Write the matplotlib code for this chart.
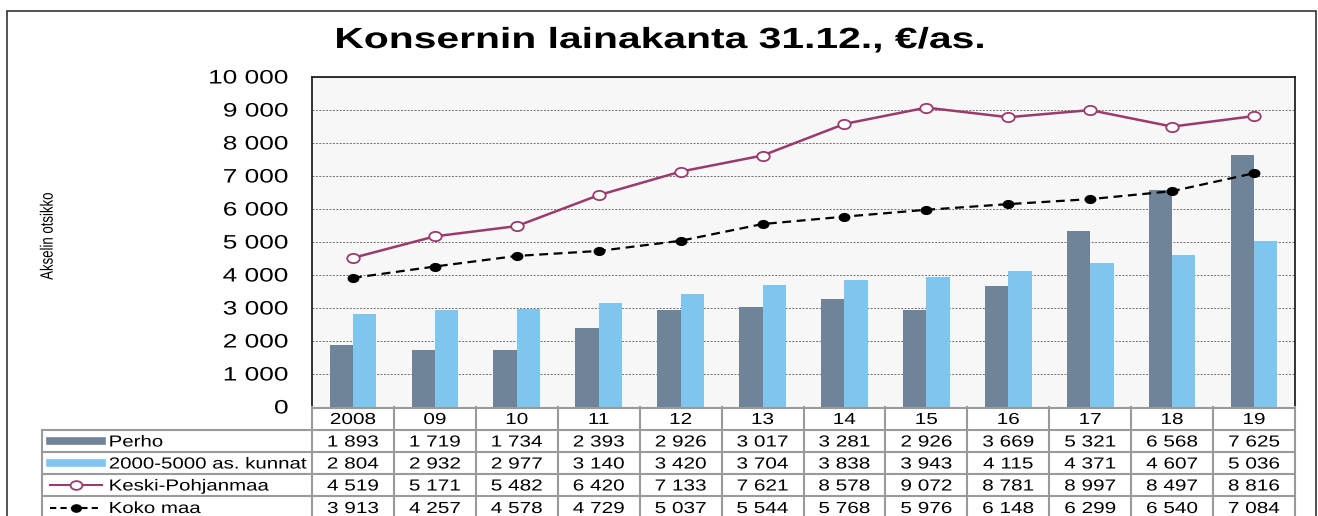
import numpy as np
import matplotlib
matplotlib.use("Agg")
import matplotlib.pyplot as plt
import matplotlib.transforms as mtrans
import matplotlib.patheffects as pe
from matplotlib.lines import Line2D
from matplotlib.patches import Rectangle
from matplotlib.path import Path

plt.rcParams['font.family'] = ['Liberation Sans', 'DejaVu Sans']

# data
years = ['2008', '09', '10', '11', '12', '13', '14', '15', '16', '17', '18', '19']
perho = [1893, 1719, 1734, 2393, 2926, 3017, 3281, 2926, 3669, 5321, 6568, 7625]
kunnat = [2804, 2932, 2977, 3140, 3420, 3704, 3838, 3943, 4115, 4371, 4607, 5036]
keski_pohjanmaa = [4519, 5171, 5482, 6420, 7133, 7621, 8578, 9072, 8781, 8997, 8497, 8816]
koko_maa = [3913, 4257, 4578, 4729, 5037, 5544, 5768, 5976, 6148, 6299, 6540, 7084]
series_names = ['Perho', '2000-5000 as. kunnat', 'Keski-Pohjanmaa', 'Koko maa']

c_perho = '#6f8499'
c_kunnat = '#7fc6ee'
c_keski = '#9b3a6d'
c_koko = 'black'
c_grid = '#9a9a9a'


class HStretch(pe.AbstractPathEffect):
    """the source picture is stretched sideways, so widen the glyphs"""
    def __init__(self, sx, ha='center', sy=1.0):
        super().__init__()
        self.sx = sx
        self.sy = sy
        self.ha = ha

    def draw_path(self, renderer, gc, tpath, affine, rgbFace=None):
        ext = tpath.get_extents()
        piv = {'left': ext.x0, 'center': (ext.x0 + ext.x1) / 2, 'right': ext.x1}[self.ha]
        pivy = (ext.y0 + ext.y1) / 2
        pre = mtrans.Affine2D().translate(-piv, -pivy).scale(self.sx, self.sy).translate(piv, pivy)
        renderer.draw_path(gc, tpath, pre + affine, rgbFace)


# wide ellipse marker
oval = Path(mtrans.Affine2D().scale(1.35, 1).transform(Path.unit_circle().vertices),
            Path.unit_circle().codes)

W, H = 1318, 516
fig = plt.figure(figsize=(W / 100, H / 100), dpi=100)

def fy(py):
    return 1 - py / H

def fx(px):
    return px / W

# outer frame
fig.patches.append(Rectangle((fx(7), fy(520)), fx(1316) - fx(7), fy(11) - fy(520),
                             transform=fig.transFigure, fill=False, ec='#333333', lw=1.2))

ax = fig.add_axes([fx(312), fy(407), fx(1295) - fx(312), fy(77) - fy(407)])
ax.set_facecolor('#f7f7f7')
x = np.arange(len(years))
bw = 0.285
ax.bar(x - bw / 2, perho, width=bw, color=c_perho, zorder=2)
ax.bar(x + bw / 2, kunnat, width=bw, color=c_kunnat, zorder=2)
ax.plot(x, koko_maa, color=c_koko, ls=(0, (4, 2.5)), lw=1.6, marker=oval, ms=7.5,
        mfc='black', mec='black', zorder=3)
ax.plot(x, keski_pohjanmaa, color=c_keski, lw=1.8, marker=oval, ms=9,
        mfc='white', mec=c_keski, mew=1.3, zorder=4)

ax.set_xlim(-0.5, len(years) - 0.5)
ax.set_ylim(0, 10000)
ax.set_yticks(np.arange(0, 10001, 1000))
ax.set_yticklabels([f'{v:,}'.replace(',', ' ') for v in range(0, 10001, 1000)], fontsize=14,
                   path_effects=[HStretch(1.35, 'right')])
ax.tick_params(axis='y', length=0, pad=17)
ax.set_xticks([])
ax.yaxis.grid(True, color='#707070', ls=(0, (2, 1.5)), lw=0.7, zorder=1)
for s in ['left', 'top', 'right']:
    ax.spines[s].set_color('#222222')
    ax.spines[s].set_linewidth(1.3)
ax.spines['bottom'].set_visible(False)

fig.text(fx(660), fy(40), 'Konsernin lainakanta 31.12., €/as.', ha='center', va='center',
         fontsize=21, fontweight='bold', path_effects=[HStretch(1.4, 'center')])
fig.text(fx(48), fy(236), 'Akselin otsikko', rotation=90, ha='center', va='center', fontsize=9.5,
         path_effects=[HStretch(1.0, 'center', sy=1.35)])

# table under the chart
bt = mtrans.blended_transform_factory(ax.transData, fig.transFigure)
rows_y = [407, 430, 452, 474, 496, 519]
n = len(years)
tfx = [HStretch(1.3, 'center')]

def hline(x0, x1, py, tr):
    fig.lines.append(Line2D([x0, x1], [fy(py), fy(py)], transform=tr, color=c_grid, lw=1.5))

def vline(xx, py0, py1, tr):
    fig.lines.append(Line2D([xx, xx], [fy(py0), fy(py1)], transform=tr, color=c_grid, lw=1.5))

for py in rows_y[1:]:
    hline(-0.5, n - 0.5, py, bt)
    hline(fx(42), fx(312), py, fig.transFigure)
hline(-0.5, n - 0.5, rows_y[0] + 0.5, bt)
for i in range(n + 1):
    vline(i - 0.5, rows_y[0], rows_y[-1], bt)
vline(fx(42), rows_y[1], rows_y[-1], fig.transFigure)

table_rows = [perho, kunnat, keski_pohjanmaa, koko_maa]
for i, yr in enumerate(years):
    fig.text(i, fy((rows_y[0] + rows_y[1]) / 2 + 1), yr, transform=bt, ha='center', va='center',
             fontsize=11.5, path_effects=tfx)
    for r, vals in enumerate(table_rows):
        cy = fy((rows_y[r + 1] + rows_y[r + 2]) / 2 + 1)
        fig.text(i, cy, f'{vals[i]:,}'.replace(',', ' '), transform=bt, ha='center', va='center',
                 fontsize=11.5, path_effects=tfx)

# legend keys in the label column
for r, name in enumerate(series_names):
    cy = fy((rows_y[r + 1] + rows_y[r + 2]) / 2)
    fig.text(fx(109), fy((rows_y[r + 1] + rows_y[r + 2]) / 2 + 1), name, ha='left', va='center',
             fontsize=11.5, path_effects=[HStretch(1.28, 'left')])
    if r == 0:
        fig.lines.append(Line2D([fx(50), fx(102)], [cy, cy], transform=fig.transFigure, color=c_perho, lw=5.5))
    elif r == 1:
        fig.lines.append(Line2D([fx(50), fx(102)], [cy, cy], transform=fig.transFigure, color=c_kunnat, lw=5.5))
    elif r == 2:
        fig.lines.append(Line2D([fx(50), fx(102)], [cy, cy], transform=fig.transFigure, color=c_keski, lw=1.5))
        fig.lines.append(Line2D([fx(76)], [cy], transform=fig.transFigure, marker=oval, ms=8.5,
                                mfc='white', mec=c_keski, mew=1.3, ls='none'))
    else:
        fig.lines.append(Line2D([fx(50), fx(102)], [cy, cy], transform=fig.transFigure, color='black',
                                lw=1.5, ls=(0, (3, 2))))
        fig.lines.append(Line2D([fx(76)], [cy], transform=fig.transFigure, marker=oval, ms=7,
                                mfc='black', mec='black', ls='none'))

fig.savefig('out.png', dpi=100)
